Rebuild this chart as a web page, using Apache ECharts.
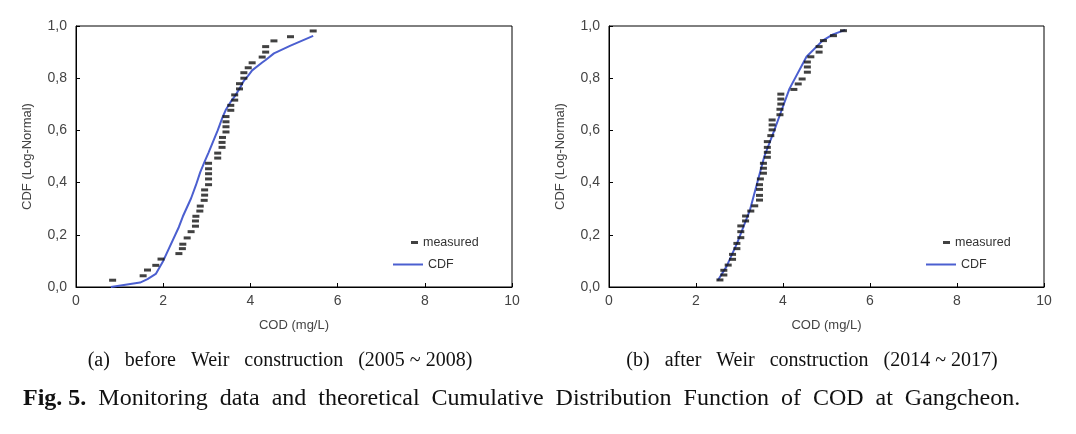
<!DOCTYPE html>
<html><head><meta charset="utf-8">
<script src="https://cdn.jsdelivr.net/npm/echarts@6/dist/echarts.min.js"></script>
<style>html,body{margin:0;padding:0;background:#fff}#c{width:1076px;height:434px}</style>
</head><body><div id="c"></div>
<script>
// ---- data ----
const xTicks = [0, 2, 4, 6, 8, 10];
const yTicks = [0, 0.2, 0.4, 0.6, 0.8, 1.0];

// (a) before Weir construction
const beforeMeasuredX = [0.84,1.54,1.64,1.83,1.95,2.36,2.44,2.45,2.55,2.64,2.74,2.74,2.75,2.84,2.85,2.94,2.95,2.95,3.04,3.04,3.04,3.04,3.04,3.25,3.25,3.35,3.35,3.36,3.44,3.44,3.44,3.44,3.55,3.55,3.64,3.64,3.75,3.75,3.85,3.85,3.95,4.04,4.27,4.35,4.35,4.54,4.92,5.44];
const beforeMeasuredY = [0.026,0.043,0.065,0.083,0.107,0.128,0.147,0.164,0.188,0.212,0.233,0.253,0.271,0.291,0.310,0.332,0.352,0.372,0.392,0.414,0.434,0.453,0.474,0.494,0.513,0.535,0.554,0.573,0.594,0.614,0.633,0.653,0.677,0.696,0.716,0.736,0.759,0.779,0.800,0.821,0.840,0.859,0.881,0.900,0.921,0.943,0.959,0.981];
const beforeCdfX = [0.80,1.47,1.64,1.83,2.00,2.36,2.45,2.64,2.75,2.85,2.95,3.04,3.25,3.36,3.44,3.55,3.64,3.75,3.85,3.95,4.04,4.27,4.35,4.54,4.92,5.44];
const beforeCdfY = [0.000,0.017,0.030,0.050,0.100,0.230,0.270,0.340,0.390,0.440,0.480,0.515,0.600,0.650,0.680,0.710,0.730,0.760,0.790,0.810,0.830,0.860,0.870,0.895,0.925,0.962];

// (b) after Weir construction
const afterMeasuredX = [2.55,2.64,2.64,2.74,2.84,2.84,2.94,2.94,3.03,3.03,3.03,3.14,3.14,3.26,3.35,3.46,3.46,3.46,3.46,3.48,3.55,3.55,3.55,3.64,3.64,3.64,3.64,3.72,3.75,3.75,3.75,3.93,3.93,3.95,3.95,3.95,4.25,4.35,4.44,4.56,4.56,4.56,4.64,4.83,4.83,4.93,5.16,5.39];
const afterMeasuredY = [0.027,0.046,0.064,0.084,0.106,0.125,0.147,0.167,0.189,0.212,0.234,0.253,0.272,0.291,0.311,0.333,0.351,0.374,0.392,0.414,0.436,0.455,0.474,0.497,0.516,0.535,0.557,0.580,0.602,0.621,0.640,0.660,0.681,0.701,0.720,0.739,0.757,0.778,0.797,0.823,0.843,0.862,0.882,0.900,0.921,0.944,0.963,0.982];
const afterCdfX = [2.50,2.70,2.95,3.24,3.57,3.80,3.93,4.15,4.54,4.91,5.15,5.43];
const afterCdfY = [0.025,0.078,0.170,0.295,0.500,0.600,0.660,0.760,0.882,0.944,0.968,0.985];

const xName = 'COD (mg/L)';
const yName = 'CDF (Log-Normal)';
const captionA = '(a)   before   Weir   construction   (2005 ~ 2008)';
const captionB = '(b)   after   Weir   construction   (2014 ~ 2017)';
const figLabel = 'Fig. 5.';
const figText = '  Monitoring  data  and  theoretical  Cumulative  Distribution  Function  of  COD  at  Gangcheon.';

// ---- chart ----
const zip = (a, b) => a.map((v, i) => [v, b[i]]);
const FONT = 'Liberation Sans';
const LINE = '#4b5fd0';
const labelColor = '#444';

function xAxis(gi) {
  return {
    gridIndex: gi, type: 'value', min: 0, max: 10, interval: 2,
    name: xName, nameLocation: 'middle', nameGap: 32,
    nameTextStyle: { fontFamily: FONT, fontSize: 13, color: labelColor },
    axisLine: { show: true, lineStyle: { color: '#000', width: 1 } },
    axisTick: { show: true, inside: true, length: 4, lineStyle: { color: '#000' } },
    axisLabel: { fontFamily: FONT, fontSize: 14, color: labelColor, margin: 7,
      formatter: v => xTicks.includes(v) ? String(v) : '' },
    splitLine: { show: false }
  };
}
function yAxis(gi) {
  return {
    gridIndex: gi, type: 'value', min: 0, max: 1, interval: 0.2,
    name: yName, nameLocation: 'middle', nameGap: 42, nameRotate: 90,
    nameTextStyle: { fontFamily: FONT, fontSize: 13, color: labelColor },
    axisLine: { show: true, lineStyle: { color: '#000', width: 1 } },
    axisTick: { show: true, inside: true, length: 4, lineStyle: { color: '#000' } },
    axisLabel: { fontFamily: FONT, fontSize: 14, color: labelColor, margin: 9,
      formatter: v => yTicks.some(t => Math.abs(t - v) < 1e-9) ? v.toFixed(1).replace('.', ',') : '' },
    splitLine: { show: false }
  };
}
function measured(gi, xs, ys) {
  return { name: 'measured', type: 'scatter', xAxisIndex: gi, yAxisIndex: gi,
    data: zip(xs, ys), symbol: 'rect', symbolSize: [7, 3],
    itemStyle: { color: '#111' }, z: 3, silent: true };
}
function cdf(gi, xs, ys) {
  return { name: 'CDF', type: 'line', xAxisIndex: gi, yAxisIndex: gi,
    data: zip(xs, ys), showSymbol: false, symbol: 'none',
    lineStyle: { color: LINE, width: 2 }, itemStyle: { color: LINE }, z: 2, silent: true };
}
function legends(leftPx, leftLinePx) {
  const ts = { fontFamily: FONT, fontSize: 12.5, color: '#333' };
  return [
    { data: [{ name: 'measured', icon: 'rect' }], left: leftPx, top: 231, itemWidth: 7, itemHeight: 3,
      itemGap: 0, textStyle: ts, itemStyle: { color: '#111' }, selectedMode: false },
    { data: [{ name: 'CDF', icon: 'rect' }], left: leftLinePx, top: 253, itemWidth: 30, itemHeight: 2,
      itemGap: 0, textStyle: ts, itemStyle: { color: LINE }, selectedMode: false, padding: [5, 0, 5, 0] }
  ];
}

const chart = echarts.init(document.getElementById('c'), null, { renderer: 'canvas' });
chart.setOption({
  backgroundColor: '#fff',
  animation: false,
  grid: [
    { left: 76, right: 564, top: 26, bottom: 147, show: true, borderColor: '#000', borderWidth: 1, containLabel: false },
    { left: 609, right: 32, top: 26, bottom: 147, show: true, borderColor: '#000', borderWidth: 1, containLabel: false }
  ],
  xAxis: [xAxis(0), xAxis(1)],
  yAxis: [yAxis(0), yAxis(1)],
  legend: [...legends(406, 393), ...legends(938, 926)],
  title: [
    { text: captionA, left: 275, top: 346, textAlign: 'center',
      textStyle: { fontFamily: 'Liberation Serif', fontSize: 20, fontWeight: 'normal', color: '#111' } },
    { text: captionB, left: 807, top: 346, textAlign: 'center',
      textStyle: { fontFamily: 'Liberation Serif', fontSize: 20, fontWeight: 'normal', color: '#111' } },
    { text: '{b|' + figLabel + '}{n|' + figText + '}', left: 18, top: 382,
      textStyle: { rich: {
        b: { fontFamily: 'Liberation Serif', fontSize: 24, fontWeight: 'bold', color: '#111' },
        n: { fontFamily: 'Liberation Serif', fontSize: 24, fontWeight: 'normal', color: '#111' } } } }
  ],
  series: [
    cdf(0, beforeCdfX, beforeCdfY), measured(0, beforeMeasuredX, beforeMeasuredY),
    cdf(1, afterCdfX, afterCdfY), measured(1, afterMeasuredX, afterMeasuredY)
  ]
});
</script></body></html>
